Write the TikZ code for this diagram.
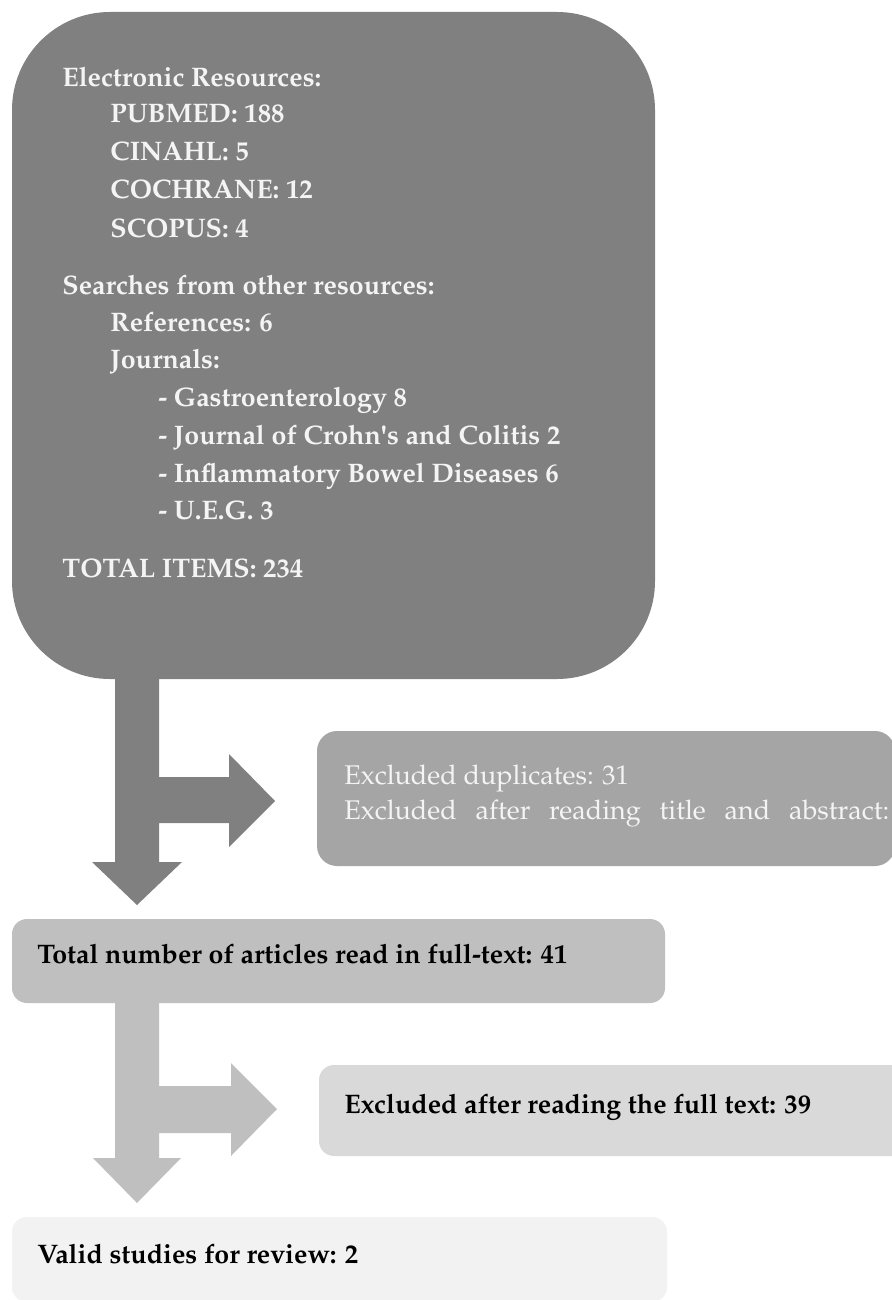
\documentclass[tikz,border=0pt]{standalone}
\usepackage[T1]{fontenc}
\usepackage{mathpazo}
\definecolor{cA}{HTML}{808080}
\definecolor{cB}{HTML}{A5A5A5}
\definecolor{cC}{HTML}{BFBFBF}
\definecolor{cD}{HTML}{D9D9D9}
\definecolor{cE}{HTML}{F2F2F2}
\definecolor{wt}{HTML}{F4F4F4}
\tikzset{
  txt/.style={anchor=base west, inner sep=0pt, font=\fontsize{13.4}{16}\selectfont\bfseries},
  wtxt/.style={txt, text=wt},
  rtxt/.style={anchor=base west, inner sep=0pt, text=wt, font=\fontsize{13.5}{16}\selectfont},
}
\begin{document}
\begin{tikzpicture}[x=0.5pt,y=-0.5pt]
\clip (0,0) rectangle (892,1300);
\fill[white] (0,0) rectangle (892,1300);
% box 1
\fill[cA, rounded corners=49pt] (12,12) rectangle (655,679);
\node[wtxt] (t1) at (62,87) {Electronic Resources:};
\node[wtxt] (t2) at (110,123) {PUBMED: 188};
\node[wtxt] (t3) at (110,161) {CINAHL: 5};
\node[wtxt] (t4) at (110,199) {COCHRANE: 12};
\node[wtxt] (t5) at (110,237) {SCOPUS: 4};
\node[wtxt] (t6) at (62,294) {Searches from other resources:};
\node[wtxt] (t7) at (110,331) {References: 6};
\node[wtxt] (t8) at (110,368) {Journals:};
\node[wtxt] (t9) at (158,406) {- Gastroenterology 8};
\node[wtxt] (t10) at (158,444) {- Journal of Crohn\textquotesingle s and Colitis 2};
\node[wtxt] (t11) at (158,482) {- Inflammatory Bowel Diseases 6};
\node[wtxt] (t12) at (158,519) {- U.E.G. 3};
\node[wtxt] (t13) at (62,577) {TOTAL ITEMS: 234};
% arrow 1
\fill[cA] (115,670) -- (159,670) -- (159,777) -- (229,777) -- (229,754) -- (275,801)
  -- (229,847) -- (229,823) -- (159,823) -- (159,862) -- (182,862) -- (137,905)
  -- (92,862) -- (115,862) -- cycle;
% box 2
\fill[cB, rounded corners=10pt] (317,731) rectangle (895,866);
\node[rtxt] (e1) at (344,784) {Excluded duplicates: 31};
\node[rtxt] (e2) at (344,819) {\makebox[272.5pt][s]{Excluded after reading title and abstract:}};
% box 3
\fill[cC, rounded corners=7.5pt] (12,919) rectangle (665,1003);
\node[txt] (f1) at (37,963) {Total number of articles read in full-text: 41};
% arrow 2
\fill[cC] (115,1000) -- (159,1000) -- (159,1086) -- (231,1086) -- (231,1063) -- (277,1109)
  -- (231,1156) -- (231,1133) -- (159,1133) -- (159,1158) -- (181,1158) -- (137,1203)
  -- (93,1158) -- (115,1158) -- cycle;
% box 4
\fill[cD, rounded corners=7.5pt] (319,1065) rectangle (910,1156);
\node[txt] (g1) at (344,1113) {Excluded after reading the full text: 39};
% box 5
\fill[cE, rounded corners=7.5pt] (12,1217) rectangle (667,1302);
\node[txt] (v1) at (37,1263) {Valid studies for review: 2};
\end{tikzpicture}
\end{document}
